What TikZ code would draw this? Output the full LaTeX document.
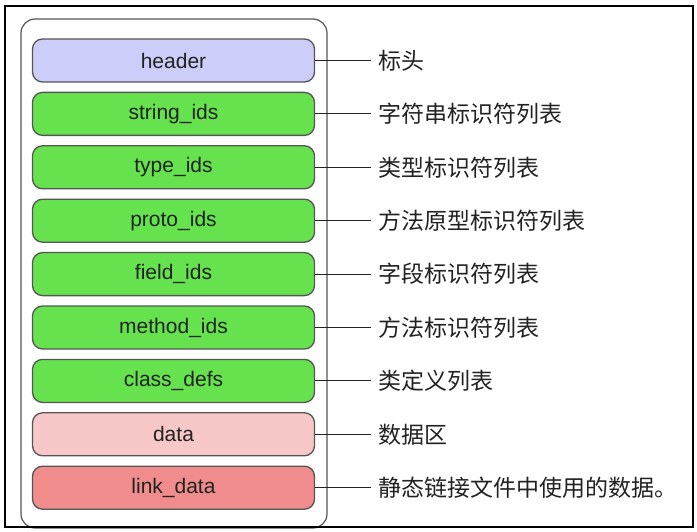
\documentclass[tikz,border=0pt]{standalone}
\usepackage{fontspec}
\setmainfont{Liberation Sans}
\newfontfamily\cjk{Noto Sans CJK SC}
\definecolor{headerblue}{RGB}{205, 205, 250}
\definecolor{idgreen}{RGB}{102, 226, 78}
\definecolor{datapink}{RGB}{248, 200, 200}
\definecolor{linkred}{RGB}{240, 140, 140}
\definecolor{edgegray}{RGB}{85, 85, 85}
\definecolor{textdark}{RGB}{34, 34, 34}
\usepackage{tikz}
\usetikzlibrary{positioning}

\begin{document}
\begin{tikzpicture}[x=1pt, y=-1pt,
    section/.style={draw=edgegray, line width=1.3pt, rounded corners=10pt,
        minimum width=282pt, minimum height=43pt, inner sep=0pt,
        font=\fontsize{21}{23}\selectfont, text=textdark},
    desc/.style={anchor=west, inner sep=0pt, font=\cjk\fontsize{23}{26}\selectfont, text=textdark},
    tie/.style={draw=textdark, line width=1pt}]
    \useasboundingbox (0, 0) rectangle (697, 532);
    \draw[edgegray, line width=1.2pt, rounded corners=14pt] (21, 19) rectangle (327, 528);
    \draw[black, line width=1.3pt] (5, 6) rectangle (693, 527);
    \node[section, fill=headerblue] (header) at (173.5, 60.5) {header};
    \node[section, fill=idgreen] (stringids) at (173.5, 113.9) {string\_ids};
    \node[section, fill=idgreen] (typeids) at (173.5, 167.3) {type\_ids};
    \node[section, fill=idgreen] (protoids) at (173.5, 220.7) {proto\_ids};
    \node[section, fill=idgreen] (fieldids) at (173.5, 274.1) {field\_ids};
    \node[section, fill=idgreen] (methodids) at (173.5, 327.5) {method\_ids};
    \node[section, fill=idgreen] (classdefs) at (173.5, 380.9) {class\_defs};
    \node[section, fill=datapink] (data) at (173.5, 434.3) {data};
    \node[section, fill=linkred] (linkdata) at (173.5, 487.7) {link\_data};
    \node[desc] (headerlbl) at (378, 60.5) {标头};
    \node[desc] (stringlbl) at (378, 113.9) {字符串标识符列表};
    \node[desc] (typelbl) at (378, 167.3) {类型标识符列表};
    \node[desc] (protolbl) at (378, 220.7) {方法原型标识符列表};
    \node[desc] (fieldlbl) at (378, 274.1) {字段标识符列表};
    \node[desc] (methodlbl) at (378, 327.5) {方法标识符列表};
    \node[desc] (classlbl) at (378, 380.9) {类定义列表};
    \node[desc] (datalbl) at (378, 434.3) {数据区};
    \node[desc] (linklbl) at (378, 487.7) {静态链接文件中使用的数据。};
    \draw[tie] (header.east) -- ([xshift=-7pt]header.east -| headerlbl.west);
    \draw[tie] (stringids.east) -- ([xshift=-7pt]stringids.east -| stringlbl.west);
    \draw[tie] (typeids.east) -- ([xshift=-7pt]typeids.east -| typelbl.west);
    \draw[tie] (protoids.east) -- ([xshift=-7pt]protoids.east -| protolbl.west);
    \draw[tie] (fieldids.east) -- ([xshift=-7pt]fieldids.east -| fieldlbl.west);
    \draw[tie] (methodids.east) -- ([xshift=-7pt]methodids.east -| methodlbl.west);
    \draw[tie] (classdefs.east) -- ([xshift=-7pt]classdefs.east -| classlbl.west);
    \draw[tie] (data.east) -- ([xshift=-7pt]data.east -| datalbl.west);
    \draw[tie] (linkdata.east) -- ([xshift=-7pt]linkdata.east -| linklbl.west);
\end{tikzpicture}
\end{document}
